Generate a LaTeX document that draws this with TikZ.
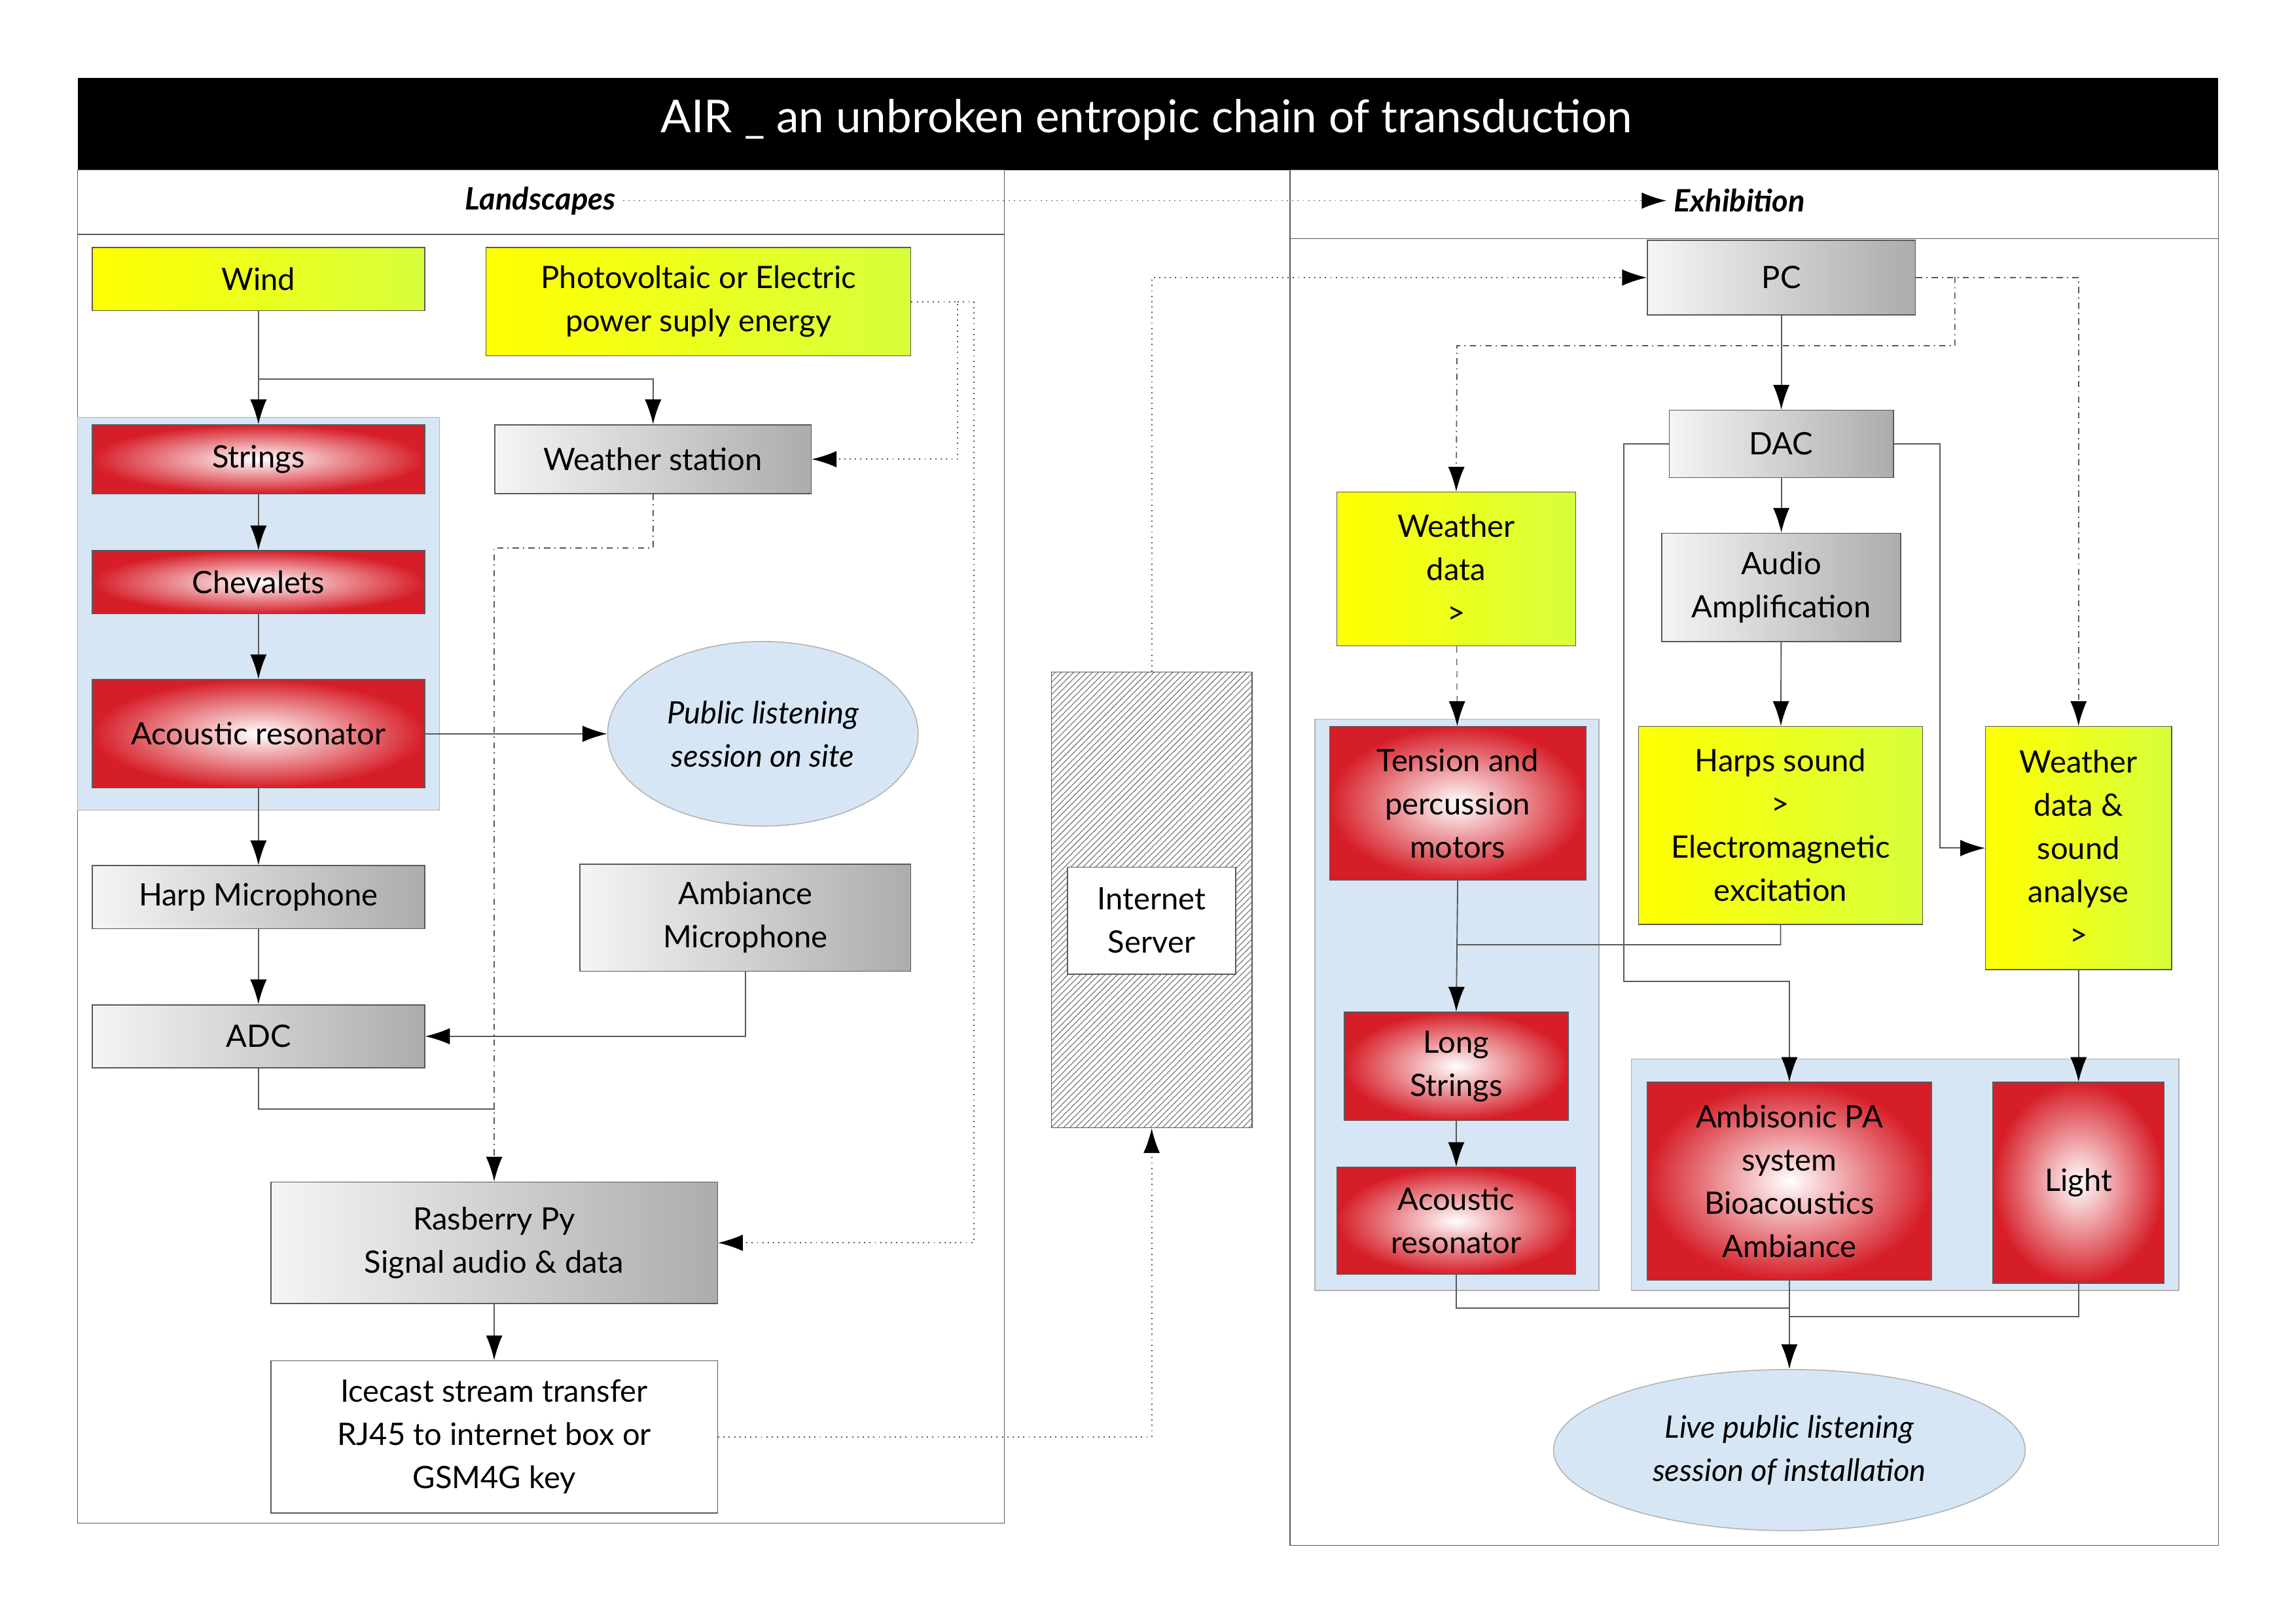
\documentclass[tikz,border=0pt]{standalone}
\usepackage{fontspec}
\setmainfont{Lato}
\usetikzlibrary{arrows.meta,patterns,shapes.geometric}
\tikzset{>={Latex[width=8pt,length=12pt]}}
\definecolor{panelblue}{RGB}{214,230,244}
\definecolor{boxred}{RGB}{214,30,40}
\definecolor{boxlime}{RGB}{215,255,60}
\tikzset{
  box/.style={draw=gray!70!black,line width=0.5pt,align=center,inner sep=2pt,
    font=\fontsize{15}{21}\selectfont},
  redbox/.style={box,inner color=white,outer color=boxred},
  yelbox/.style={box,left color=yellow,right color=boxlime},
  greybox/.style={box,left color=gray!8,right color=gray!65},
  bubble/.style={box,ellipse,fill=panelblue,draw=gray!60,font=\fontsize{15}{21}\selectfont\itshape},
  link/.style={draw=gray!70!black,line width=0.6pt},
  con/.style={link,-{Latex[width=8pt,length=12pt,color=black]}},
  dotl/.style={draw=gray!70!black,line width=0.6pt,dotted},
  dashl/.style={draw=gray!70!black,line width=0.6pt,dash dot}
}
\begin{document}
\begin{tikzpicture}[x=0.025cm,y=-0.025cm]
		% page
		\useasboundingbox (0,0) rectangle (1568,1108);
		% title and panels
		\fill[black] (53,53) rectangle (1515,116);
		\node[text=white,font=\fontsize{22}{26}\selectfont] (title) at (783,82) {AIR \_ an unbroken entropic chain of transduction};
		\draw[gray!70!black] (53,116) rectangle (686,1040) (53,160) -- (686,160);
		\draw[gray!70!black] (881,116) rectangle (1515,1055) (881,163) -- (1515,163);
		\node[font=\fontsize{15}{18}\selectfont\bfseries\itshape] (land) at (369,137) {Landscapes};
		\node[font=\fontsize{15}{18}\selectfont\bfseries\itshape,anchor=west] (exhib) at (1138,137) {Exhibition};
		\draw[dotl,-{Latex[width=8pt,length=12pt,color=black]}] (land.east) -- (exhib.west);
		% blue panels
		\draw[gray!60,fill=panelblue] (53,285) rectangle (300,553);
		\draw[gray!60,fill=panelblue] (898,491) rectangle (1092,881);
		\draw[gray!60,fill=panelblue] (1114,723) rectangle (1488,881);
		% landscapes nodes
		\node[yelbox,minimum width=5.675cm,minimum height=1.075cm] (wind) at (176.5,190.5) {Wind};
		\node[yelbox,minimum width=7.25cm,minimum height=1.85cm] (photo) at (477,206) {Photovoltaic or Electric\\power suply energy};
		\node[redbox,minimum width=5.675cm,minimum height=1.175cm] (strings) at (176.5,313.5) {Strings};
		\node[redbox,minimum width=5.675cm,minimum height=1.075cm] (chev) at (176.5,397.5) {Chevalets};
		\node[redbox,minimum width=5.675cm,minimum height=1.85cm] (acres) at (176.5,501) {Acoustic resonator};
		\node[greybox,minimum width=5.4cm,minimum height=1.175cm] (wstation) at (446,313.5) {Weather station};
		\node[bubble,minimum width=5.3cm,minimum height=3.15cm] (public) at (521,501) {Public listening\\session on site};
		\node[greybox,minimum width=5.675cm,minimum height=1.075cm] (harpmic) at (176.5,612.5) {Harp Microphone};
		\node[greybox,minimum width=5.65cm,minimum height=1.825cm] (ambmic) at (509,626.5) {Ambiance\\Microphone};
		\node[greybox,minimum width=5.675cm,minimum height=1.075cm] (adc) at (176.5,707.5) {ADC};
		\node[greybox,minimum width=7.625cm,minimum height=2.075cm] (rasp) at (337.5,848.5) {Rasberry Py\\Signal audio \& data};
		\node[box,fill=white,minimum width=7.625cm,minimum height=2.6cm] (icecast) at (337.5,981) {Icecast stream transfer\\RJ45 to internet box or\\GSM4G key};
		% internet
		\node[draw=gray!70!black,pattern=north east lines,pattern color=gray,minimum width=3.425cm,minimum height=7.775cm] (hatch) at (786.5,614.5) {};
		\node[box,fill=white,minimum width=2.875cm,minimum height=1.825cm] (server) at (786.5,628.5) {Internet\\Server};
		% exhibition nodes
		\node[greybox,minimum width=4.575cm,minimum height=1.275cm] (pc) at (1216.5,189.5) {PC};
		\node[greybox,minimum width=3.825cm,minimum height=1.15cm] (dac) at (1216.5,303) {DAC};
		\node[yelbox,minimum width=4.075cm,minimum height=2.625cm] (wdata) at (994.5,388.5) {Weather\\data\\>};
		\node[greybox,minimum width=4.075cm,minimum height=1.85cm] (audio) at (1216.5,401) {Audio\\Amplification};
		\node[redbox,minimum width=4.375cm,minimum height=2.625cm] (tension) at (995.5,548.5) {Tension and\\percussion\\motors};
		\node[redbox,minimum width=3.825cm,minimum height=1.85cm] (longs) at (994.5,728) {Long\\Strings};
		\node[redbox,minimum width=4.075cm,minimum height=1.825cm] (acres2) at (994.5,833.5) {Acoustic\\resonator};
		\node[yelbox,minimum width=4.85cm,minimum height=3.375cm] (harps) at (1216,563.5) {Harps sound\\>\\Electromagnetic\\excitation};
		\node[yelbox,minimum width=3.175cm,minimum height=4.15cm] (wanalyse) at (1419.5,579) {Weather\\data \&\\sound\\analyse\\>};
		\node[redbox,minimum width=4.85cm,minimum height=3.375cm] (ambis) at (1222,806.5) {Ambisonic PA\\system\\Bioacoustics\\Ambiance};
		\node[redbox,minimum width=2.925cm,minimum height=3.425cm] (light) at (1419.5,807.5) {Light};
		\node[bubble,minimum width=8.05cm,minimum height=2.75cm] (live) at (1222,990) {Live public listening\\session of installation};
		% landscapes connectors
		\draw[con] (wind) -- (strings);
		\draw[con] (177,259) -| (wstation.north);
		\draw[con] (strings) -- (chev);
		\draw[con] (chev) -- (acres);
		\draw[con] (acres) -- (harpmic);
		\draw[con] (harpmic) -- (adc);
		\draw[con] (acres.east) -- (public.west);
		\draw[dotl,-{Latex[width=8pt,length=12pt,color=black]}] (photo.east) -- (654,206) |- (wstation.east);
		\draw[dotl,-{Latex[width=8pt,length=12pt,color=black]}] (654,206) -- (665,206) |- (rasp.east);
		\draw[dashl,-{Latex[width=8pt,length=12pt,color=black]}] (wstation.south) -- (446,374) -| (rasp.north);
		\draw[con] (ambmic.south) |- (adc.east);
		\draw[link] (adc.south) |- (338,757);
		\draw[con] (rasp) -- (icecast);
		\draw[dotl,-{Latex[width=8pt,length=12pt,color=black]}] (icecast.east) -| (hatch.south);
		\draw[dotl,-{Latex[width=8pt,length=12pt,color=black]}] (hatch.north) |- (pc.west);
		% exhibition connectors
		\draw[con] (pc) -- (dac);
		\draw[con] (dac) -- (audio);
		\draw[con] (audio) -- (harps);
		\draw[dashl,-{Latex[width=8pt,length=12pt,color=black]}] (pc.east) -| (wanalyse.north);
		\draw[dashl,-{Latex[width=8pt,length=12pt,color=black]}] (1335,189) |- (995,236) -- (wdata.north);
		\draw[con] (dac.west) -| (1109,670) -| (ambis.north);
		\draw[con] (dac.east) -| (1325,579) -- (wanalyse.west);
		\draw[dashed,draw=gray!70!black,-{Latex[width=8pt,length=12pt,color=black]}] (wdata) -- (tension);
		\draw[link] (tension.south) -- (995,645);
		\draw[con] (harps.south) |- (995,645) -- (longs.north);
		\draw[con] (longs) -- (acres2);
		\draw[con] (wanalyse) -- (light);
		\draw[link] (acres2.south) |- (1222,893);
		\draw[link] (light.south) |- (1222,899);
		\draw[con] (ambis.south) -- (live.north);
\end{tikzpicture}
\end{document}
